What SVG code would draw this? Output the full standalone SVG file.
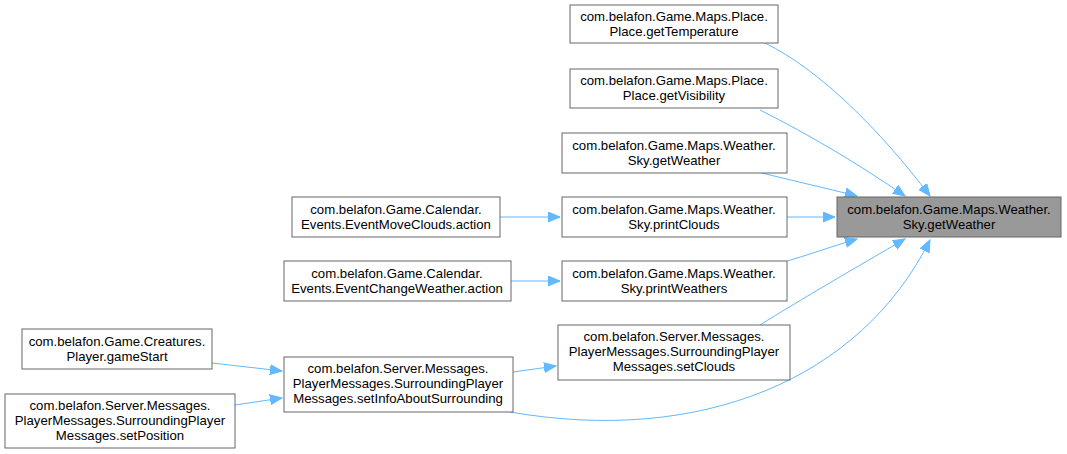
<svg xmlns="http://www.w3.org/2000/svg" width="1067" height="454" viewBox="0 0 1067 454">
<defs>
<marker id="ah" markerWidth="13" markerHeight="11" refX="12" refY="5.5" orient="auto" markerUnits="userSpaceOnUse">
<path d="M0,0.5 L12,5.5 L0,10.5 Z" fill="#63b8ff" stroke="#63b8ff"/>
</marker>
<style>
.n rect{fill:#ffffff;stroke:#666666;stroke-width:1}
.n.t rect{fill:#999999}
.n text{font-family:"Liberation Sans",Arial,sans-serif;font-size:13.2px;fill:#000;text-anchor:middle}
.e path{fill:none;stroke:#63b8ff;stroke-width:1;marker-end:url(#ah)}
</style>
</defs>
<rect width="1067" height="454" fill="#ffffff"/>
<g class="e" id="edges">
<path d="M765,43 C820,70 880,130 930,196"/>
<path d="M760,110 C810,135 860,165 905,196"/>
<path d="M762,173 C790,180 825,188 857,196"/>
<path d="M787,217 L835,217"/>
<path d="M787,261 C805,256 830,247 857,239"/>
<path d="M760,325 C800,300 860,265 905,239"/>
<path d="M510,412 C700,445 860,380 930,240"/>
<path d="M500,217 L560,217"/>
<path d="M511,281 L560,281"/>
<path d="M212,363 L282,371"/>
<path d="M235,405 L282,398"/>
<path d="M513,372 L556,366"/>
</g>
<g class="n t" id="target"><rect x="837" y="197" width="224" height="40"/><text x="949" y="214">com.belafon.Game.Maps.Weather.</text><text x="949" y="229">Sky.getWeather</text></g>
<g class="n" id="getTemperature"><rect x="570" y="5" width="208" height="38"/><text x="674" y="21">com.belafon.Game.Maps.Place.</text><text x="674" y="36">Place.getTemperature</text></g>
<g class="n" id="getVisibility"><rect x="570" y="69" width="208" height="39"/><text x="674" y="85">com.belafon.Game.Maps.Place.</text><text x="674" y="100">Place.getVisibility</text></g>
<g class="n" id="skyGetWeather"><rect x="562" y="133" width="225" height="40"/><text x="674" y="150">com.belafon.Game.Maps.Weather.</text><text x="674" y="165">Sky.getWeather</text></g>
<g class="n" id="printClouds"><rect x="562" y="197" width="225" height="40"/><text x="674" y="214">com.belafon.Game.Maps.Weather.</text><text x="674" y="229">Sky.printClouds</text></g>
<g class="n" id="printWeathers"><rect x="562" y="261" width="225" height="40"/><text x="674" y="278">com.belafon.Game.Maps.Weather.</text><text x="674" y="293">Sky.printWeathers</text></g>
<g class="n" id="setClouds"><rect x="558" y="325" width="232" height="55"/><text x="674" y="341">com.belafon.Server.Messages.</text><text x="674" y="356">PlayerMessages.SurroundingPlayer</text><text x="674" y="371">Messages.setClouds</text></g>
<g class="n" id="eventMoveClouds"><rect x="292" y="197" width="208" height="40"/><text x="396" y="214">com.belafon.Game.Calendar.</text><text x="396" y="229">Events.EventMoveClouds.action</text></g>
<g class="n" id="eventChangeWeather"><rect x="284" y="261" width="227" height="40"/><text x="397" y="278">com.belafon.Game.Calendar.</text><text x="397" y="293">Events.EventChangeWeather.action</text></g>
<g class="n" id="setInfoAboutSurrounding"><rect x="284" y="357" width="229" height="55"/><text x="398" y="373">com.belafon.Server.Messages.</text><text x="398" y="388">PlayerMessages.SurroundingPlayer</text><text x="398" y="403">Messages.setInfoAboutSurrounding</text></g>
<g class="n" id="gameStart"><rect x="22" y="329" width="190" height="40"/><text x="117" y="346">com.belafon.Game.Creatures.</text><text x="117" y="361">Player.gameStart</text></g>
<g class="n" id="setPosition"><rect x="5" y="394" width="230" height="54"/><text x="120" y="410">com.belafon.Server.Messages.</text><text x="120" y="425">PlayerMessages.SurroundingPlayer</text><text x="120" y="440">Messages.setPosition</text></g>
</svg>
